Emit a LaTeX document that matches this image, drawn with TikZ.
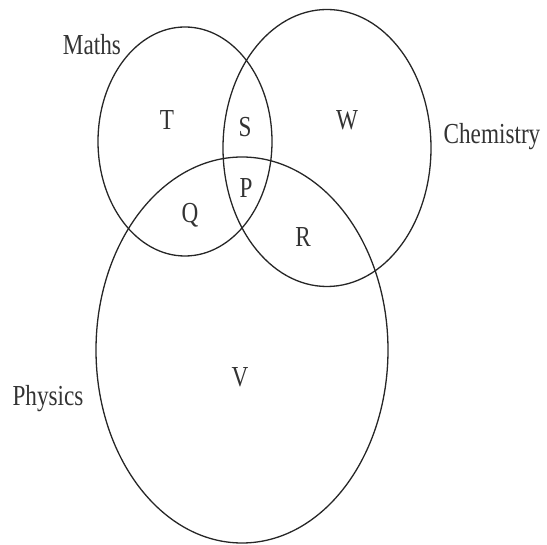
\documentclass[tikz,border=0pt]{standalone}
\usepackage{fontspec}
\usepackage{graphicx}
\setmainfont{Liberation Serif}
\tikzset{
  setline/.style={draw=black!85, line width=1.3pt},
  lbl/.style={inner sep=0pt, text=black!80, font=\fontsize{29}{29}\selectfont}
}
\newcommand{\sq}[1]{\scalebox{0.8}[1]{#1}}
\begin{document}
\begin{tikzpicture}[x=1pt,y=-1pt]
\useasboundingbox (0,0) rectangle (547,545);
\draw[setline] (185,141.5) ellipse [x radius=87, y radius=114.5];
\draw[setline] (327,148) ellipse [x radius=104, y radius=138.5];
\draw[setline] (242,350) ellipse [x radius=146, y radius=193];
\node[lbl] (maths) at (92,45) {\sq{Maths}};
\node[lbl] (chem) at (492,137) {\sq{Chemistry}};
\node[lbl] (phys) at (48,399) {\sq{Physics}};
\node[lbl] (t) at (167,120) {\sq{T}};
\node[lbl] (s) at (245,127) {\sq{S}};
\node[lbl] (w) at (347,120) {\sq{W}};
\node[lbl] (p) at (246,188) {\sq{P}};
\node[lbl] (q) at (190,215) {\sq{Q}};
\node[lbl] (r) at (303,237) {\sq{R}};
\node[lbl] (v) at (240,377) {\sq{V}};
\end{tikzpicture}
\end{document}
